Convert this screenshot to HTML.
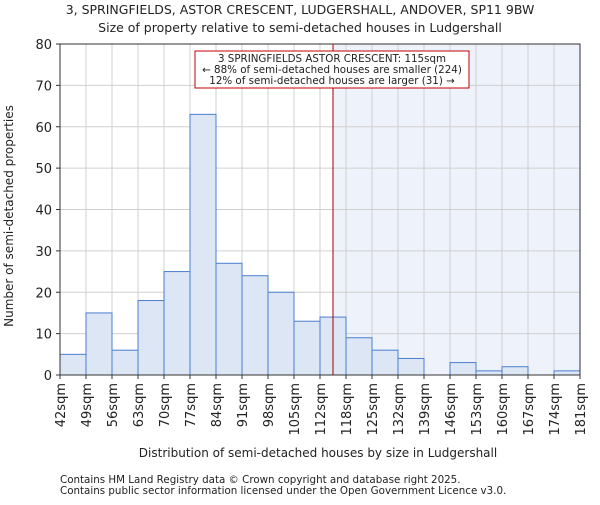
<!DOCTYPE html>
<html><head><meta charset="utf-8"><style>
body{margin:0;background:#fff;}
svg text{font-family:"DejaVu Sans","Liberation Sans",sans-serif;fill:#222;}
</style></head><body>
<svg id="chart" width="600" height="500" viewBox="0 0 600 500" xmlns="http://www.w3.org/2000/svg">
<text x="300" y="14" font-size="12.5" text-anchor="middle">3, SPRINGFIELDS, ASTOR CRESCENT, LUDGERSHALL, ANDOVER, SP11 9BW</text>
<text x="300" y="32" font-size="12.5" text-anchor="middle">Size of property relative to semi-detached houses in Ludgershall</text>
<g id="plot"></g>
<text x="318" y="457" font-size="12" text-anchor="middle">Distribution of semi-detached houses by size in Ludgershall</text>
<text transform="translate(13,216) rotate(-90)" font-size="12" text-anchor="middle">Number of semi-detached properties</text>
<text x="60" y="483" font-size="10.3">Contains HM Land Registry data © Crown copyright and database right 2025.</text>
<text x="60" y="494" font-size="10.3">Contains public sector information licensed under the Open Government Licence v3.0.</text>
</svg>
<script>
const binLabels=["42sqm","49sqm","56sqm","63sqm","70sqm","77sqm","84sqm","91sqm","98sqm","105sqm","112sqm","118sqm","125sqm","132sqm","139sqm","146sqm","153sqm","160sqm","167sqm","174sqm","181sqm"];
const counts=[5,15,6,18,25,63,27,24,20,13,14,9,6,4,0,3,1,2,0,1];
const yTicks=[0,10,20,30,40,50,60,70,80];
const markerIndex=10.5;
const annotLines=["3 SPRINGFIELDS ASTOR CRESCENT: 115sqm","← 88% of semi-detached houses are smaller (224)","12% of semi-detached houses are larger (31) →"];
const X0=60,X1=580,Y0=375,Y1=44,YMAX=80;
const ns="http://www.w3.org/2000/svg";
const g=document.getElementById('plot');
const nb=counts.length;
const x=i=>X0+(X1-X0)*i/nb;
const y=v=>Y0-(Y0-Y1)*v/YMAX;
function mk(t,a,p){const e=document.createElementNS(ns,t);for(const k in a)e.setAttribute(k,a[k]);(p||g).appendChild(e);return e;}
let e;
e=mk('rect',{x:x(markerIndex),y:Y1,width:X1-x(markerIndex),height:Y0-Y1,fill:'#eef2fb'});


for(let i=0;i<=nb;i++){e=mk('line',{x1:x(i),x2:x(i),y1:Y1,y2:Y0,stroke:'#d0d0d0','stroke-width':1});

}
yTicks.forEach(t=>{e=mk('line',{x1:X0,x2:X1,y1:y(t),y2:y(t),stroke:'#d0d0d0','stroke-width':1});

});
counts.forEach((c,i)=>{if(c<=0)return;e=mk('rect',{x:x(i),y:y(c),width:x(i+1)-x(i),height:Y0-y(c),fill:'#dce6f5',stroke:'#4a7fd0','stroke-width':1});

});
e=mk('rect',{x:X0,y:Y1,width:X1-X0,height:Y0-Y1,fill:'none',stroke:'#333','stroke-width':1});


yTicks.forEach(t=>{e=mk('text',{x:X0-8,y:y(t)+5,'font-size':13,'text-anchor':'end'});e.textContent=t;


mk('line',{x1:X0-4,x2:X0,y1:y(t),y2:y(t),stroke:'#333'});});
binLabels.forEach((l,i)=>{const xx=x(i);mk('line',{x1:xx,x2:xx,y1:Y0,y2:Y0+4,stroke:'#333'});
e=mk('text',{transform:`translate(${xx+5},${Y0+8}) rotate(-90)`,'font-size':13,'text-anchor':'end'});e.textContent=l;

});
e=mk('line',{x1:x(markerIndex),x2:x(markerIndex),y1:Y1,y2:Y0,stroke:'#a00000','stroke-width':1});


e=mk('rect',{x:195,y:51,width:274,height:37,fill:'#fff',stroke:'#c00000','stroke-width':1});


annotLines.forEach((l,i)=>{e=mk('text',{x:332,y:62+i*11,'font-size':10.3,'text-anchor':'middle'});e.textContent=l;

});
</script>
</body></html>
